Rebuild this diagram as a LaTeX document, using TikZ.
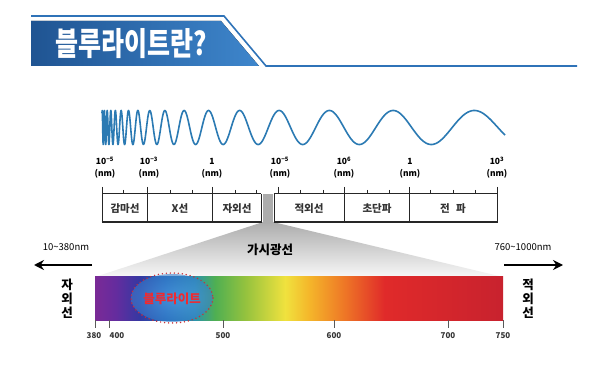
\documentclass[tikz,border=0pt]{standalone}
\usepackage{fontspec}
\setmainfont{Noto Sans CJK KR}
\usetikzlibrary{positioning,arrows.meta}

\definecolor{bandblue}{HTML}{2563AC}
\definecolor{bandlight}{HTML}{3E86CC}
\definecolor{lineblue}{HTML}{2F73B8}
\definecolor{waveblue}{HTML}{2B7AB3}
\definecolor{dotred}{HTML}{C8303A}
\definecolor{textred}{HTML}{F02A30}
\definecolor{glowblue}{HTML}{5AA8F0}
% spectrum colours
\definecolor{sA}{HTML}{7A2A96}
\definecolor{sB}{HTML}{652C9E}
\definecolor{sC}{HTML}{3438A2}
\definecolor{sD}{HTML}{1F62B2}
\definecolor{sE}{HTML}{2B93AE}
\definecolor{sF}{HTML}{4FAF52}
\definecolor{sG}{HTML}{94C23E}
\definecolor{sH}{HTML}{F0E23E}
\definecolor{sI}{HTML}{F4B52A}
\definecolor{sJ}{HTML}{EE7626}
\definecolor{sK}{HTML}{E02A2A}
\definecolor{sL}{HTML}{C8222E}

\pgfdeclarehorizontalshading{visible}{100bp}{color(0bp)=(sA); color(25bp)=(sA);
  color(27.5bp)=(sB); color(30.5bp)=(sC); color(33.6bp)=(sD); color(37.2bp)=(sE);
  color(39.7bp)=(sF); color(43.4bp)=(sG); color(48.3bp)=(sH); color(51.3bp)=(sI);
  color(55.6bp)=(sJ); color(60.5bp)=(sK); color(75bp)=(sL); color(100bp)=(sL)}

\tikzset{
  rule/.style={draw=black!85, line width=1pt},
  minor/.style={draw=black!85, line width=0.9pt},
  explbl/.style={font=\bfseries\fontsize{8.5}{8.5}\selectfont, inner sep=0pt},
  cell/.style={font=\bfseries\fontsize{10.5}{10.5}\selectfont, inner sep=0pt, text=black!80},
  nmlbl/.style={font=\bfseries\fontsize{8}{8}\selectfont, inner sep=0pt, text=black!80},
  vert/.style={font=\bfseries\fontsize{12.5}{14}\selectfont, align=center, inner sep=0pt},
  bigarrow/.style={line width=2.2pt, -{Stealth[length=10pt,width=10pt]}}
}

\begin{document}
\begin{tikzpicture}[x=1pt, y=-1pt]
  \useasboundingbox[fill=white] (0,0) rectangle (602,379);

  % Title banner
  \fill[left color=bandblue!85!black, right color=bandlight] (31,21) -- (221,21) -- (259,66) -- (31,66) -- cycle;
  \draw[lineblue, line width=1.6pt] (31,16) -- (224,16) -- (266,66) -- (577,66);
  \node[text=white, font=\bfseries\fontsize{25}{25}\selectfont, yscale=1.28, transform shape, inner sep=0pt] (title) at (131,44) {블루라이트란?};

  % Wave
  \draw[waveblue, line width=1.6pt, line join=round]
    plot[domain=102:140, samples=700] (\x, {127.5-17*cos(360*(4.1667*ln((\x-94)/8)-16.09))})
    -- plot[domain=140:505, samples=700] (\x, {127.5-17*cos(360*(4.1667*ln((\x-94)/8)-16.09))});

  % Wavelength labels
  \foreach \t/\e [count=\i] in {105/10\textsuperscript{−5}, 149/10\textsuperscript{−3}, 212/1,
      280/10\textsuperscript{−5}, 344/10\textsuperscript{6}, 410/1, 497/10\textsuperscript{3}} {
    \node[explbl] (e\i) at (\t,161) {\e};
    \node[explbl] (u\i) at (\t,174) {(nm)};
  }

  % Visible band funnel
  \shade[top color=gray!65, bottom color=gray!6] (263,222) -- (273,222) -- (503,277) -- (95,277) -- cycle;
  \fill[gray!65] (263,194) rectangle (273,223);

  % Scale ruler
  \draw[rule] (102,194) -- (261,194) (274,194) -- (497,194);
  \draw[rule, line width=1.8pt] (101.5,222) -- (261.5,222) (273.5,222) -- (497.5,222);
  \foreach \t in {102,147,212,344,409,497} \draw[rule] (\t,187) -- (\t,222);
  \draw[rule] (261,194) -- (261,222) (274,194) -- (274,222) (278,187) -- (278,194);
  \foreach \t in {123,170,192,235,256,300,323,367,389,430,453,475} \draw[minor] (\t,190) -- (\t,194);

  \node[cell] (gamma) at (125,209) {감마선};
  \node[cell] (xray)  at (180,209) {X선};
  \node[cell] (uv)    at (237,209) {자외선};
  \node[cell] (ir)    at (309,209) {적외선};
  \node[cell] (micro) at (377,209) {초단파};
  \node[cell] (radio) at (453,209) {전\hspace{0.6em}파};

  \node[font=\bfseries\fontsize{12.5}{12.5}\selectfont, inner sep=0pt] (vis) at (270,250) {가시광선};

  % Spectrum
  \shade[shading=visible] (95,277) rectangle (503,320);
  \foreach \t in {95,109,223,334,448,503} \draw[draw=black!65, line width=0.9pt] (\t,320) -- (\t,328);
  \node[nmlbl] (n380) at (94,336)  {380};
  \node[nmlbl] (n400) at (117,336) {400};
  \node[nmlbl] (n500) at (223,336) {500};
  \node[nmlbl] (n600) at (334,336) {600};
  \node[nmlbl] (n700) at (448,336) {700};
  \node[nmlbl] (n750) at (503,336) {750};

  % Blue light
  \shade[inner color=glowblue, outer color=glowblue!40!sD, opacity=0.6] (172,298) ellipse [x radius=41, y radius=24];
  \draw[dotred, line width=1.6pt, dash pattern=on 0pt off 4pt, line cap=round] (172,298) ellipse [x radius=41, y radius=25];
  \node[text=textred, font=\bfseries\fontsize{12.5}{12.5}\selectfont, inner sep=0pt] (blue) at (172,299) {블루라이트};

  % Side arrows
  \coordinate (uvS) at (92,265);
  \coordinate (uvE) at (34,265);
  \coordinate (irS) at (504,265);
  \coordinate (irE) at (563,265);
  \draw[bigarrow] (uvS) -- (uvE);
  \draw[bigarrow] (irS) -- (irE);
  \node[font=\fontsize{9.5}{9.5}\selectfont, inner sep=0pt] (uvrange) at (66,247) {10\textasciitilde380nm};
  \node[font=\fontsize{9.5}{9.5}\selectfont, inner sep=0pt] (irrange) at (523,247) {760\textasciitilde1000nm};
  \node[vert] (uvside) at (67,299) {자\\외\\선};
  \node[vert] (irside) at (528,299) {적\\외\\선};
\end{tikzpicture}
\end{document}
